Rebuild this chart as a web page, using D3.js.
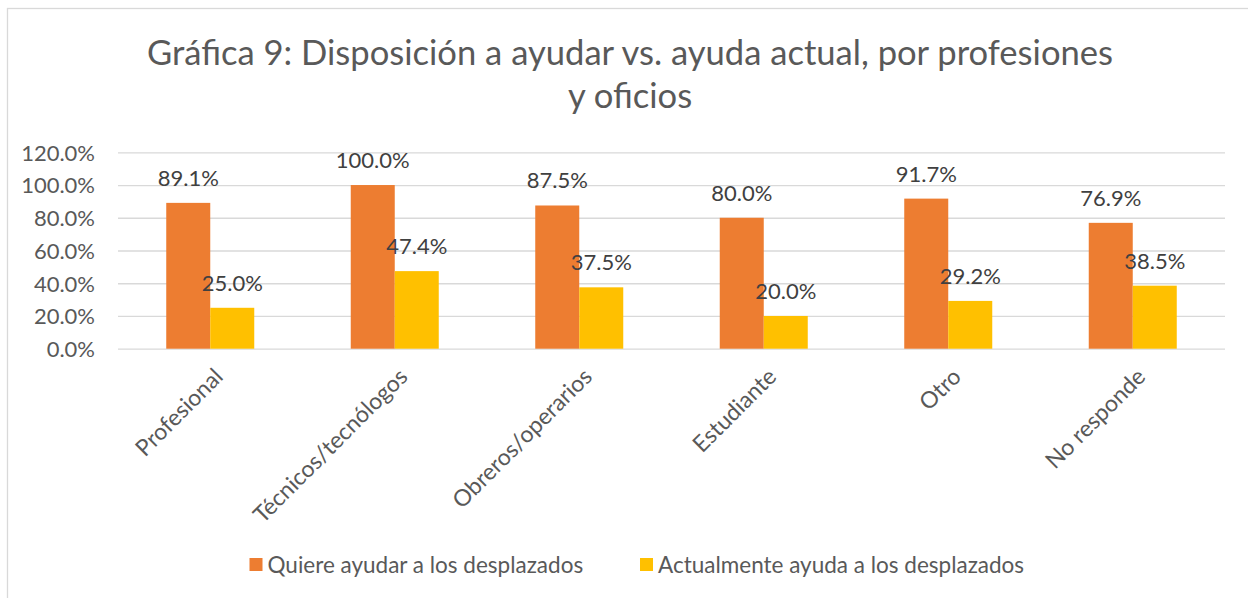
<!DOCTYPE html>
<html>
<head>
<meta charset="utf-8">
<script src="https://cdn.jsdelivr.net/npm/d3@7"></script>
<style>
    body { margin: 0; background: #fff; }
    text { font-family: Lato, 'Open Sans', sans-serif; }
</style>
</head>
<body>
<div id="chart"></div>
<script>
const categories = ['Profesional', 'Técnicos/tecnólogos', 'Obreros/operarios', 'Estudiante', 'Otro', 'No responde']
const quiereAyudar = [0.891, 1.0, 0.875, 0.80, 0.917, 0.769]
const actualmenteAyuda = [0.25, 0.474, 0.375, 0.20, 0.292, 0.385]
const seriesNames = ['Quiere ayudar a los desplazados', 'Actualmente ayuda a los desplazados']
const yTicks = [0, 0.2, 0.4, 0.6, 0.8, 1.0, 1.2]
const titleLines = ['Gráfica 9: Disposición a ayudar vs. ayuda actual, por profesiones', 'y oficios']

const colors = ['#ed7d31', '#ffc000']
const width = 1248
const height = 598

const createGraph = () => {
    const rows = categories.map((c, i) => ({ cat: c, values: [quiereAyudar[i], actualmenteAyuda[i]] }))
    const pct = d3.format('.1%')

    const x0 = d3.scaleBand().domain(categories).range([118, 1225]).paddingInner(0.523).paddingOuter(0.2615)
    const x1 = d3.scaleBand().domain(seriesNames).range([0, x0.bandwidth()])
    const y = d3.scaleLinear().domain([0, 1.2]).range([348.7, 152.3])

    const svg = d3.select('#chart')
                .append('svg')
                .attr('width', width)
                .attr('height', height)

    svg.append('rect')
        .attr('x', 7.5)
        .attr('y', 8.5)
        .attr('width', width + 10)
        .attr('height', height + 10)
        .attr('fill', 'none')
        .attr('stroke', '#d9d9d9')
        .attr('stroke-width', 1.3)

    svg.append('text')
        .attr('text-anchor', 'middle')
        .attr('fill', '#595959')
        .style('font-size', '34.6px')
        .selectAll('tspan')
        .data(titleLines)
        .enter()
        .append('tspan')
        .attr('x', 630)
        .attr('y', (d, i) => 65 + i * 43)
        .text((d) => d)

    const yAxis = d3.axisLeft(y).tickValues(yTicks).tickFormat(pct).tickSize(-(1225 - 118)).tickPadding(23)
    const gy = svg.append('g')
        .attr('transform', 'translate(118, 0)')
        .call(yAxis)
    gy.select('.domain').remove()
    gy.selectAll('.tick line').attr('stroke', '#d9d9d9').attr('stroke-width', 1.3)
    gy.selectAll('.tick text')
        .attr('fill', '#595959')
        .style('font-size', '22px')
        .attr('dy', '0.36em')

    const groups = svg.selectAll('.group')
        .data(rows)
        .enter()
        .append('g')
        .attr('class', 'group')
        .attr('transform', (d) => `translate(${x0(d.cat)}, 0)`)

    groups.selectAll('rect')
        .data((d) => d.values.map((v, i) => ({ key: seriesNames[i], v: v, i: i })))
        .enter()
        .append('rect')
        .attr('x', (d) => x1(d.key))
        .attr('width', x1.bandwidth())
        .attr('y', (d) => y(d.v))
        .attr('height', (d) => y(0) - y(d.v))
        .attr('fill', (d) => colors[d.i])

    groups.selectAll('.label')
        .data((d) => d.values.map((v, i) => ({ key: seriesNames[i], v: v })))
        .enter()
        .append('text')
        .attr('class', 'label')
        .attr('x', (d) => x1(d.key) + x1.bandwidth() / 2)
        .attr('y', (d) => y(d.v) - 17)
        .attr('text-anchor', 'middle')
        .attr('fill', '#404040')
        .style('font-size', '22px')
        .text((d) => pct(d.v))

    svg.selectAll('.xlabel')
        .data(categories)
        .enter()
        .append('text')
        .attr('class', 'xlabel')
        .attr('transform', (d) => `translate(${x0(d) + x0.bandwidth() / 2 + 2}, 366) rotate(-45)`)
        .attr('text-anchor', 'end')
        .attr('dy', '0.75em')
        .attr('fill', '#595959')
        .style('font-size', '23px')
        .text((d) => d)

    const legendX = [249.5, 640]
    const legend = svg.selectAll('.legend')
        .data(seriesNames)
        .enter()
        .append('g')
        .attr('class', 'legend')
        .attr('transform', (d, i) => `translate(${legendX[i]}, 558)`)
    legend.append('rect')
        .attr('width', 13)
        .attr('height', 13)
        .attr('fill', (d, i) => colors[i])
    legend.append('text')
        .attr('x', 18)
        .attr('y', 14.5)
        .attr('fill', '#595959')
        .style('font-size', '22.5px')
        .text((d) => d)
}

createGraph()
</script>
</body>
</html>
